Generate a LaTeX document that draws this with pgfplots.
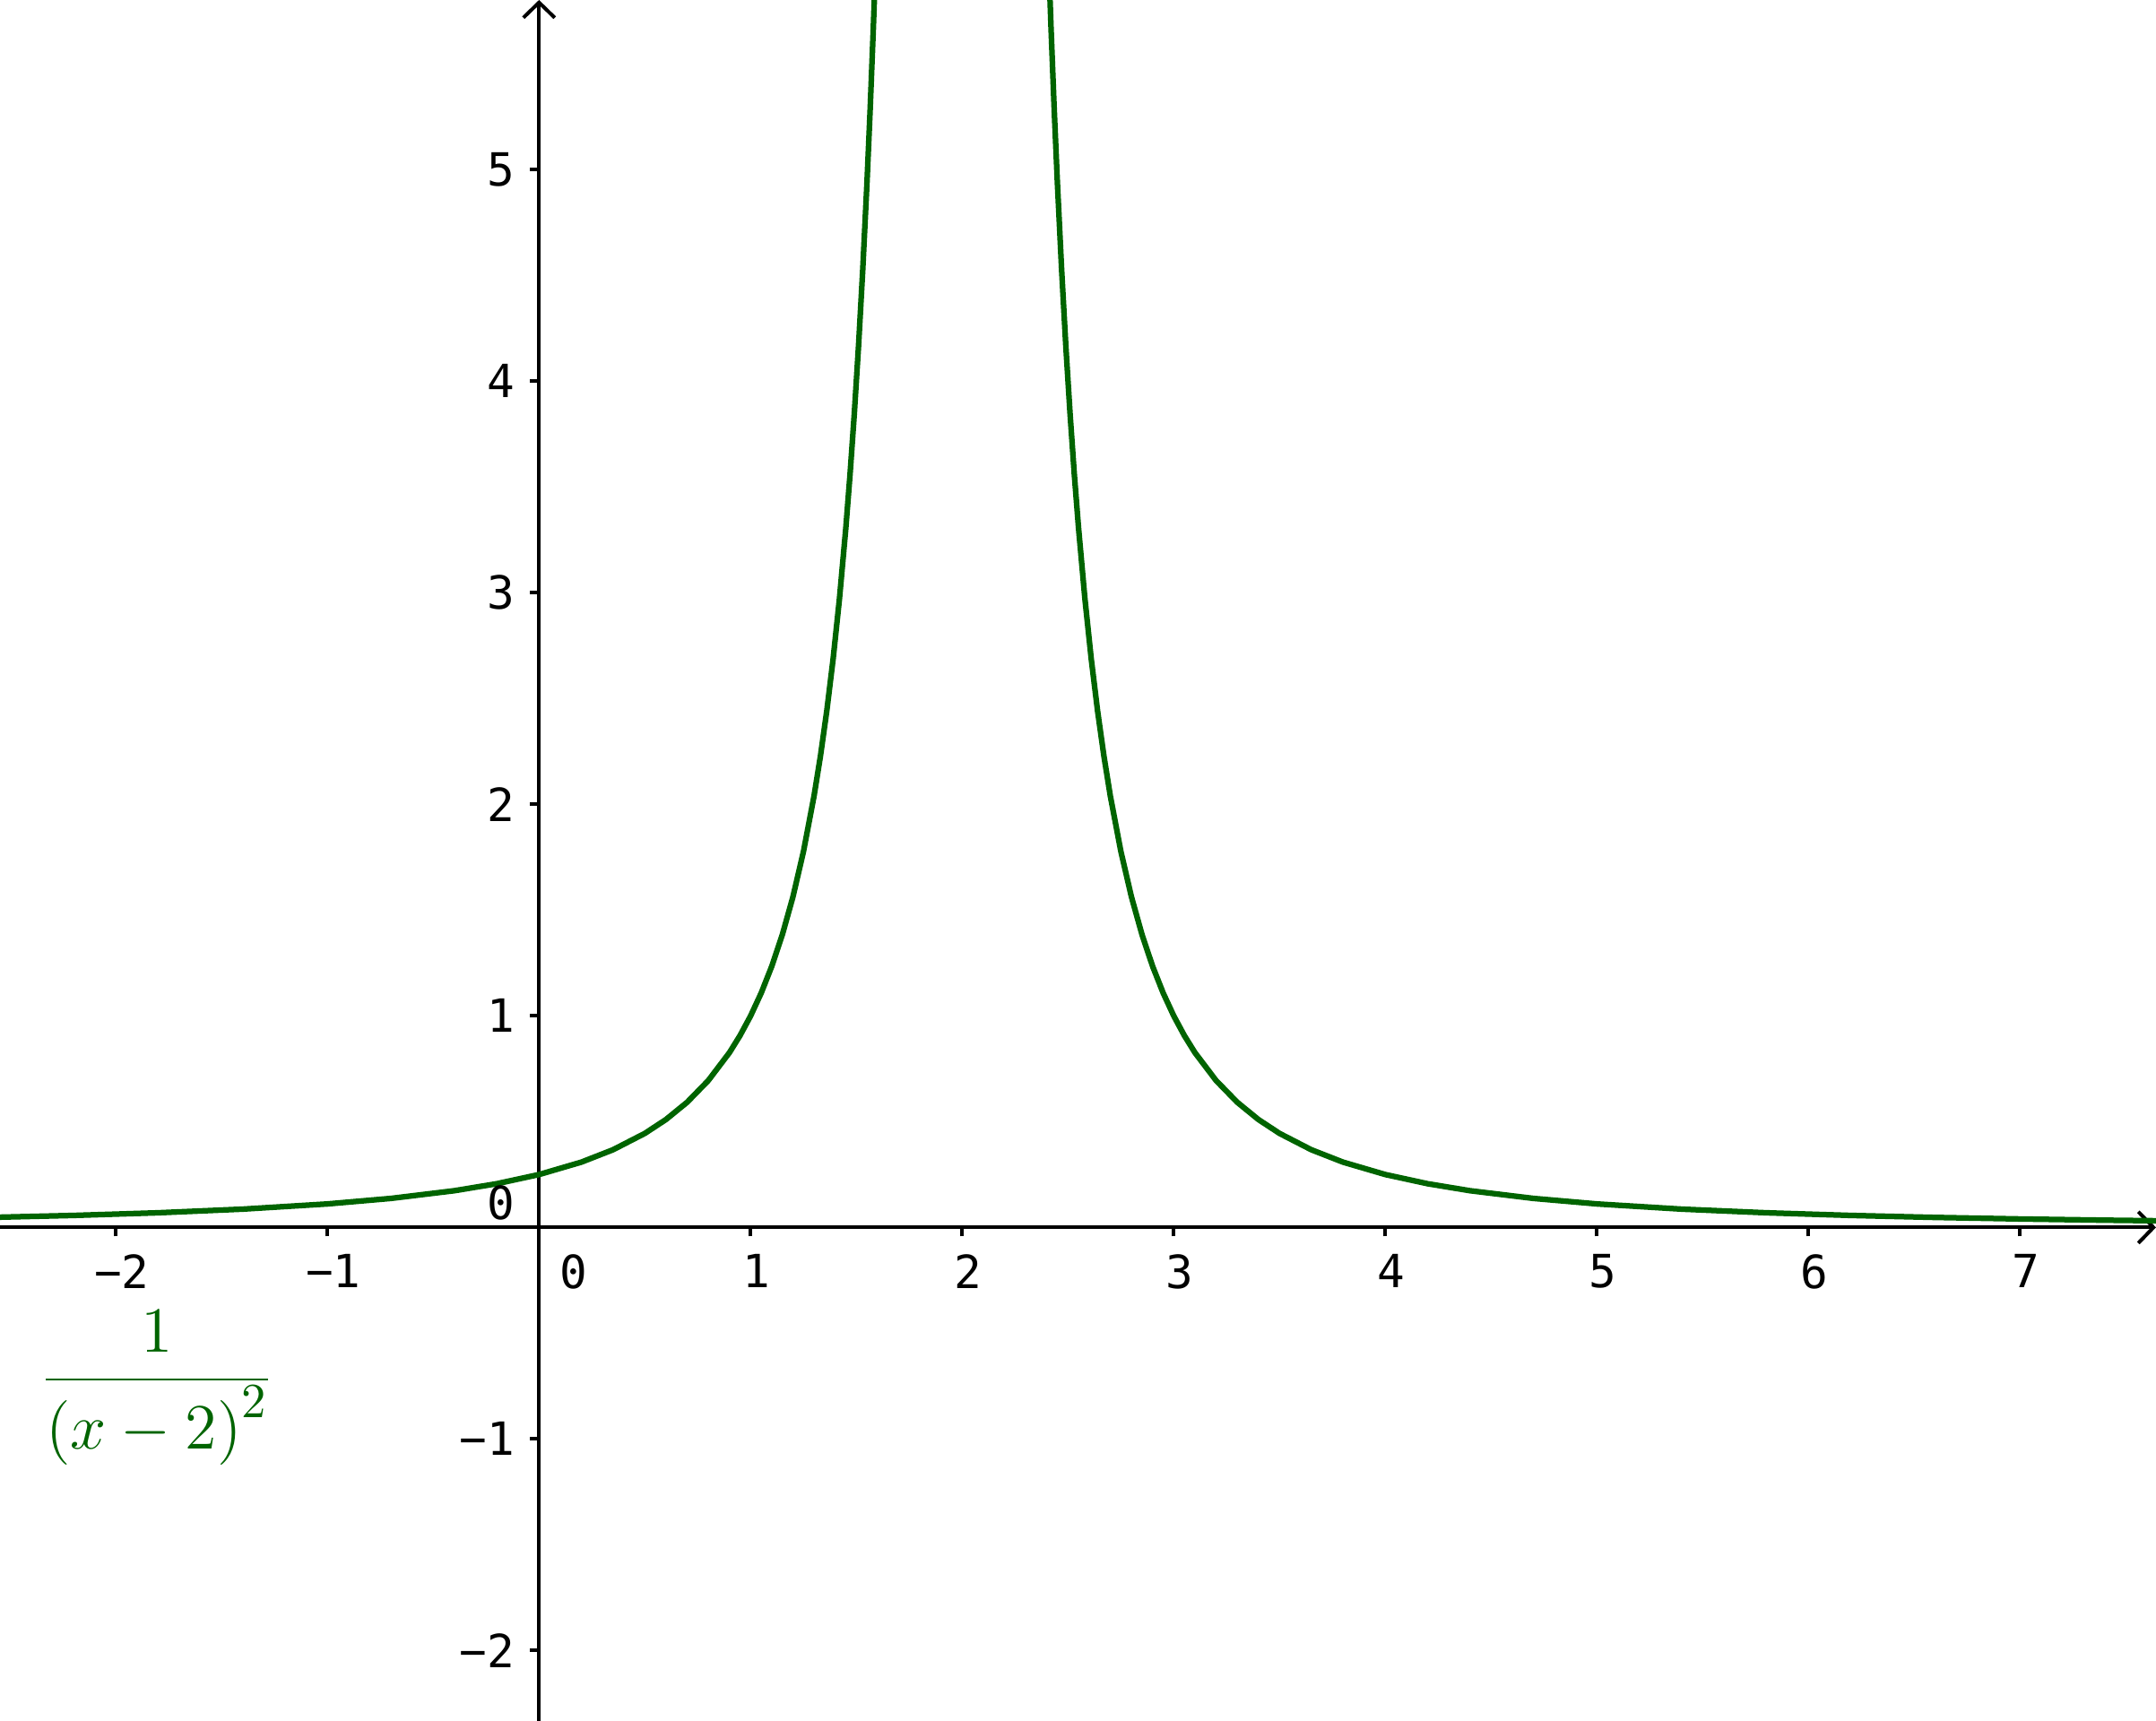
\documentclass[border=0pt]{standalone}
\usepackage{pgfplots}
\pgfplotsset{compat=1.18}
\usepackage{fontspec}
\usetikzlibrary{arrows.meta}
\newfontfamily\monof{DejaVu Sans Mono}
\definecolor{curvegreen}{RGB}{0,100,0}
\begin{document}
\begin{tikzpicture}
\begin{axis}[
  scale only axis,
  width=481pt, height=384pt,
  xmin=-2.548, xmax=7.643,
  ymin=-2.333, ymax=5.802,
  axis lines=middle,
  axis line style={line width=0.8pt, black, -{Straight Barb[length=3.4pt,width=7pt,line width=0.8pt]}},
  xtick={-2,-1,1,2,3,4,5,6,7},
  xticklabels={−2,−1,1,2,3,4,5,6,7},
  ytick={-2,-1,1,2,3,4,5},
  yticklabels={−2,−1,1,2,3,4,5},
  tick align=outside,
  major tick length=2pt,
  every tick/.style={black, line width=0.8pt},
  tick label style={font=\monof\fontsize{10.2}{12}\selectfont, inner sep=0pt},
  xticklabel style={anchor=north, xshift=1.3pt, yshift=-3.8pt},
  yticklabel style={anchor=east, xshift=-3.2pt},
  clip=true,
]
\coordinate (SW) at (rel axis cs:0,0);
\coordinate (NE) at (rel axis cs:1,1);
\addplot[curvegreen, line width=1.25pt] coordinates {
(-2.6,0.04726) (-2.2,0.05669) (-1.8,0.06925) (-1.4,0.08651) (-1.0,0.11111)
(-0.7,0.13717) (-0.4,0.17361) (-0.2,0.20661) (0,0.25) (0.2,0.30864)
(0.35,0.36731) (0.5,0.44444) (0.6,0.51020) (0.7,0.59172) (0.8,0.69444)
(0.9,0.82645) (0.95,0.90703) (1.0,1) (1.05,1.10803) (1.1,1.23457)
(1.15,1.38408) (1.2,1.5625) (1.25,1.77778) (1.3,2.04082) (1.33,2.22767)
(1.36,2.44141) (1.39,2.68745) (1.42,2.97265) (1.45,3.30579) (1.47,3.55999)
(1.49,3.84468) (1.51,4.16493) (1.53,4.52694) (1.55,4.93827) (1.565,5.28471)
(1.58,5.66893) (1.595,6.09663) (1.61,6.57462)
};
\addplot[curvegreen, line width=1.25pt] coordinates {
(2.39,6.57462) (2.405,6.09663) (2.42,5.66893) (2.435,5.28471) (2.45,4.93827)
(2.47,4.52694) (2.49,4.16493) (2.51,3.84468) (2.53,3.55999) (2.55,3.30579)
(2.58,2.97265) (2.61,2.68745) (2.64,2.44141) (2.67,2.22767) (2.7,2.04082)
(2.75,1.77778) (2.8,1.5625) (2.85,1.38408) (2.9,1.23457) (2.95,1.10803)
(3.0,1) (3.05,0.90703) (3.1,0.82645) (3.2,0.69444) (3.3,0.59172)
(3.4,0.51020) (3.5,0.44444) (3.65,0.36731) (3.8,0.30864) (4.0,0.25)
(4.2,0.20661) (4.4,0.17361) (4.7,0.13717) (5.0,0.11111) (5.4,0.08651)
(5.8,0.06925) (6.2,0.05669) (6.6,0.04726) (7.0,0.04) (7.4,0.03429) (7.8,0.02973)
};
\node[anchor=north, inner sep=0pt, yshift=-5.8pt, font=\monof\fontsize{10.2}{12}\selectfont] at (axis cs:0.164,0) {0};
\node[anchor=east, inner sep=0pt, xshift=-5.3pt, font=\monof\fontsize{10.2}{12}\selectfont] at (axis cs:0,0.117) {0};
\node[anchor=base, inner sep=0pt, text=curvegreen, font=\fontsize{15.5}{19}\selectfont] at (axis cs:-1.805,-0.794) {\nulldelimiterspace=0pt$\displaystyle\frac{1}{(x-2)^{\raisebox{3pt}{$\scriptstyle 2$}}}$};
\end{axis}
\pgfresetboundingbox
\path[use as bounding box] (SW) rectangle (NE);
\end{tikzpicture}
\end{document}
